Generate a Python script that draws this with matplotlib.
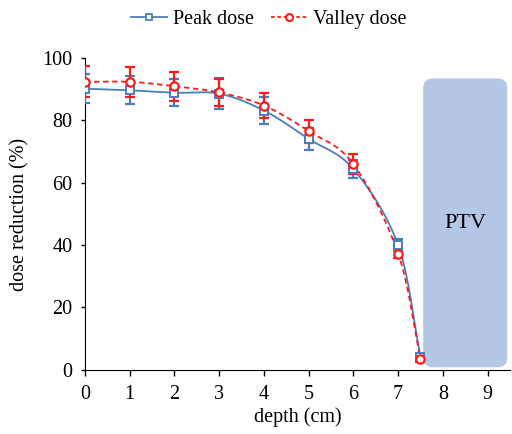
import numpy as np
import matplotlib.pyplot as plt
from matplotlib.patches import FancyBboxPatch

plt.rcParams['font.family'] = ['Liberation Serif', 'DejaVu Serif']

# Data
depth = [0, 1, 2, 3, 4, 5, 6, 7, 7.5]
peak = [90.2, 89.7, 88.9, 88.6, 83.2, 74.1, 64.4, 40.0, 4.2]
peak_err = [4.6, 4.5, 4.4, 5.0, 4.2, 3.5, 3.0, 2.0, 1.0]
valley = [92.4, 92.4, 91.0, 89.0, 84.8, 76.6, 66.0, 37.3, 3.5]
valley_err = [5.0, 4.8, 4.6, 4.4, 4.0, 3.7, 3.3, 1.5, 1.0]

blue = "#4a7ebb"
red = "#ff1a1a"
ptv_color = "#b4c7e7"


def smooth(x, y, n=30):
    # Catmull-Rom curve through the points (like Excel smoothed lines)
    x = np.asarray(x, float)
    y = np.asarray(y, float)
    px = np.concatenate([[2 * x[0] - x[1]], x, [2 * x[-1] - x[-2]]])
    py = np.concatenate([[2 * y[0] - y[1]], y, [2 * y[-1] - y[-2]]])
    xs, ys = [], []
    t = np.linspace(0, 1, n)
    for i in range(1, len(px) - 2):
        for p, out in ((px, xs), (py, ys)):
            p0, p1, p2, p3 = p[i - 1], p[i], p[i + 1], p[i + 2]
            out.extend(0.5 * ((2 * p1) + (-p0 + p2) * t
                              + (2 * p0 - 5 * p1 + 4 * p2 - p3) * t ** 2
                              + (-p0 + 3 * p1 - 3 * p2 + p3) * t ** 3))
    return xs, ys


fig = plt.figure(figsize=(5.12, 4.34), dpi=100)
ax = fig.add_axes([0.166, 0.148, 0.83, 0.718])

# PTV region
box = FancyBboxPatch((7.56, 0.8), 1.88, 92.7,
                     boxstyle="round,pad=0,rounding_size=0.22",
                     mutation_aspect=14.5, facecolor=ptv_color,
                     edgecolor="none", zorder=1)
ax.add_patch(box)
ax.text(8.5, 47, "PTV", fontsize=16, ha="center", va="center", zorder=2)

sx, sy = smooth(depth, peak)
ax.plot(sx, sy, color=blue, lw=1.3, zorder=3)
sx, sy = smooth(depth, valley)
ax.plot(sx, sy, color=red, lw=1.3, ls=(0, (3, 2)), zorder=4)

ax.errorbar(depth, peak, yerr=peak_err, fmt="none", ecolor=blue,
            elinewidth=1.6, capsize=3.5, capthick=1.6, zorder=3)
ax.errorbar(depth, valley, yerr=valley_err, fmt="none", ecolor=red,
            elinewidth=1.6, capsize=3.5, capthick=1.6, zorder=4)
ax.plot(depth, peak, ls="none", marker="s", ms=6, mfc="white",
        mec=blue, mew=1.4, zorder=5)
ax.plot(depth, valley, ls="none", marker="o", ms=6, mfc="white",
        mec=red, mew=1.6, zorder=6)

# legend handles
h1, = ax.plot([], [], color=blue, lw=1.3, marker="s", ms=5,
              mfc="white", mec=blue, mew=1.3)
h2, = ax.plot([], [], color=red, lw=1.3, ls=(0, (2, 1.5)), marker="o",
              ms=5, mfc="white", mec=red, mew=1.5)
fig.legend([h1, h2], ["Peak dose", "Valley dose"], loc="center",
           bbox_to_anchor=(0.525, 0.955), ncol=2, frameon=False,
           fontsize=14.5, handlelength=1.8, columnspacing=0.8,
           handletextpad=0.3)

ax.set_xlim(0, 9.5)
ax.set_ylim(0, 100)
ax.set_xticks(range(10))
ax.set_yticks(range(0, 101, 20))
ax.spines["top"].set_visible(False)
ax.spines["right"].set_visible(False)
ax.tick_params(labelsize=14.5, direction="out", length=4, width=1)
ax.tick_params(axis="x", pad=7)
ax.tick_params(axis="y", length=3, pad=6)
ax.set_xlabel("depth (cm)", fontsize=14.5, labelpad=2)
ax.set_ylabel("dose reduction (%)", fontsize=14.5, labelpad=9)

fig.savefig("out.png", dpi=100)
